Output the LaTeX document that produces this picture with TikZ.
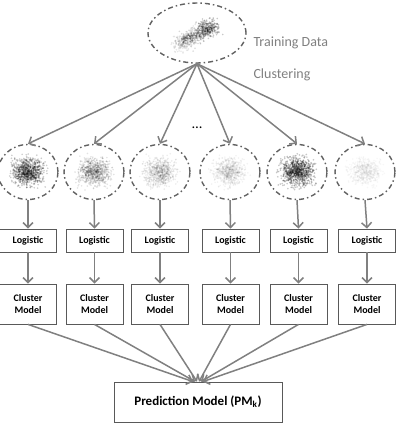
\documentclass[tikz,border=0pt]{standalone}
\usepackage{fontspec}
\setmainfont{Carlito}
\usetikzlibrary{shapes.geometric,arrows.meta}
\newcommand\drawcloud[6]{%
  \foreach \k in {1,...,#5}{%
    \pgfmathsetmacro\dx{(rand+rand+rand)*#3}%
    \pgfmathsetmacro\dy{(rand+rand+rand)*#4}%
    \fill[black,opacity=#6] (#1+\dx,#2+\dy) circle[radius=0.9];
  }}
\newcommand\drawtopcloud{%
  \foreach \k in {1,...,800}{%
    \pgfmathsetmacro\tt{rand}%
    \pgfmathsetmacro\dx{(rand+rand+rand)*4.5}%
    \pgfmathsetmacro\dy{(rand+rand+rand)*3.8}%
    \pgfmathsetmacro\op{0.09+0.12*(\tt>0.3)+0.06*(abs(\tt+0.3)<0.25)}%
    \fill[black,opacity=\op] (196+18*\tt+\dx,35-10*\tt+\dy) circle[radius=0.9];
  }}
\begin{document}
\begin{tikzpicture}[x=1pt,y=-1pt,
  arr/.style={draw=black!50, line width=1.5pt, -{Straight Barb[length=5pt,width=10pt]}},
  clus/.style={ellipse, draw=black!62, line width=1.4pt,
     dash pattern=on 5pt off 3pt on 1.5pt off 3pt,
     minimum width=60pt, minimum height=55pt, inner sep=0pt},
  boxa/.style={draw=black!65, line width=0.8pt, fill=white, font=\bfseries\fontsize{10}{12}\selectfont,
     minimum width=57pt, minimum height=23pt, inner sep=0pt, align=center},
  boxb/.style={boxa, minimum height=40pt},
  side/.style={anchor=west, text=black!50, font=\fontsize{14}{16}\selectfont}]
\useasboundingbox (0,0) rectangle (401,423);
\pgfmathsetseed{42}
% clouds
\drawtopcloud
\drawcloud{28}{172}{7.5}{6.5}{900}{0.2}
\drawcloud{94}{172}{7.5}{6.5}{800}{0.11}
\drawcloud{160}{172}{7.5}{6.5}{700}{0.075}
\drawcloud{230}{172}{7.5}{6.5}{700}{0.05}
\drawcloud{297}{172}{7.5}{6.5}{900}{0.22}
\drawcloud{365}{172}{7.5}{6.5}{600}{0.03}
% ellipses
\node[clus, minimum width=98pt, minimum height=60pt] (top) at (197,33) {};
\node[clus] (e1) at (28,172) {};
\node[clus] (e2) at (94,172) {};
\node[clus] (e3) at (160,172) {};
\node[clus] (e4) at (230,172) {};
\node[clus] (e5) at (297,172) {};
\node[clus] (e6) at (365,172) {};
\node[side] (td) at (250,43) {Training Data};
\node[side] (cl) at (250,75) {Clustering};
\node[font=\Large] (dots) at (197,128) {…};
% boxes
\foreach \i/\x in {1/28,2/94.5,3/160,4/230.5,5/298.5,6/367}{
  \node[boxa] (l\i) at (\x,240.5) {Logistic};
  \node[boxb] (m\i) at (\x,304) {Cluster\\Model};
}
\node[boxa, minimum width=168pt, minimum height=40pt, font=\bfseries\fontsize{13}{15}\selectfont] (pm) at (198,402) {Prediction Model (PM\textsubscript{k})};
% arrows
\foreach \i in {1,...,6}{
  \draw[arr] (top.south) -- (e\i.north);
  \draw[arr] (e\i.south) -- (l\i.north);
  \draw[arr] (l\i.south) -- (m\i.north);
}
\draw[arr] (m1.south) -- ([xshift=-5pt]pm.north);
\draw[arr] (m2.south) -- ([xshift=-3pt]pm.north);
\draw[arr] (m3.south) -- ([xshift=-1pt]pm.north);
\draw[arr] (m4.south) -- ([xshift=1pt]pm.north);
\draw[arr] (m5.south) -- ([xshift=3pt]pm.north);
\draw[arr] (m6.south) -- ([xshift=5pt]pm.north);
\end{tikzpicture}
\end{document}
